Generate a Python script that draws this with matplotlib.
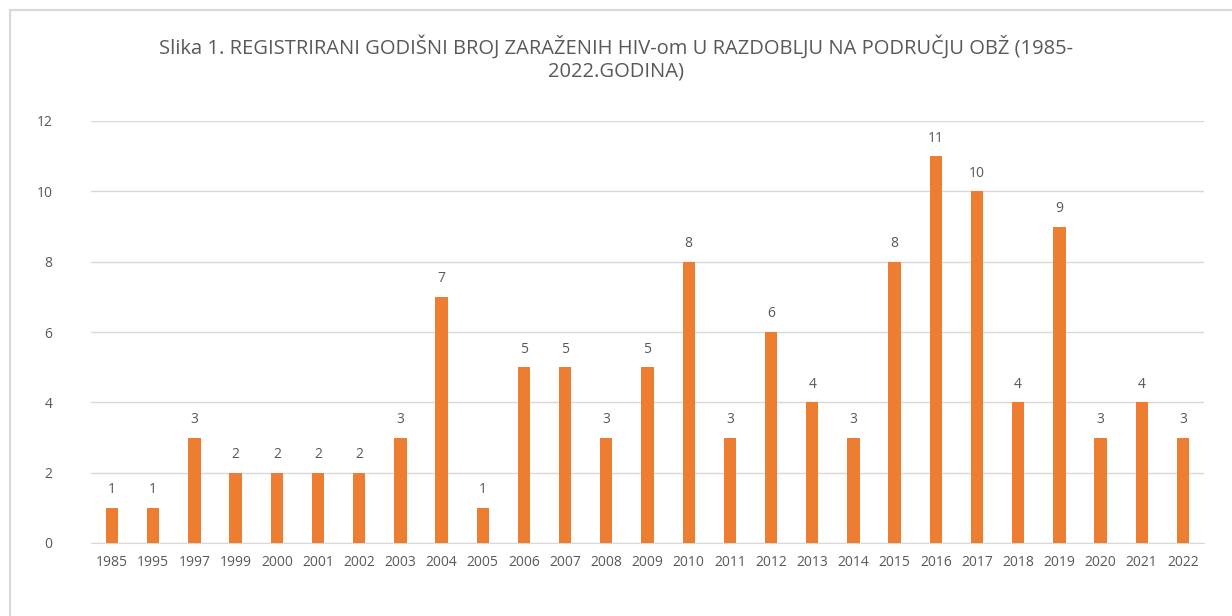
import matplotlib.pyplot as plt
from matplotlib.patches import Rectangle

# data
years = ["1985", "1995", "1997", "1999", "2000", "2001", "2002", "2003", "2004",
         "2005", "2006", "2007", "2008", "2009", "2010", "2011", "2012", "2013",
         "2014", "2015", "2016", "2017", "2018", "2019", "2020", "2021", "2022"]
cases = [1, 1, 3, 2, 2, 2, 2, 3, 7, 1, 5, 5, 3, 5, 8, 3, 6, 4, 3, 8, 11, 10,
         4, 9, 3, 4, 3]
yticks = [0, 2, 4, 6, 8, 10, 12]

title = ("Slika 1. REGISTRIRANI GODIŠNI BROJ ZARAŽENIH HIV-om U RAZDOBLJU NA PODRUČJU OBŽ (1985-\n"
         "2022.GODINA)")

plt.rcParams['font.family'] = ['Open Sans', 'DejaVu Sans']
text_col = "#595959"
bar_col = "#ED7D31"
grid_col = "#D9D9D9"

fig = plt.figure(figsize=(12.32, 6.16), dpi=100)

# chart frame (extends past right/bottom edge like the screenshot)
fig.patches.append(Rectangle((10 / 1232, -0.1), 1.2, 1 - 10 / 616 + 0.1,
                             transform=fig.transFigure, fill=False,
                             edgecolor=grid_col, linewidth=1.5))

ax = fig.add_axes([91.5 / 1232, 1 - 543 / 616, (1203.5 - 91.5) / 1232, (543 - 121) / 616])

x = range(len(years))
ax.bar(x, cases, width=0.3, color=bar_col, zorder=3)

for xi, v in zip(x, cases):
    ax.text(xi, v + 0.3, str(v), ha="center", va="bottom", fontsize=10, color=text_col)

ax.set_xlim(-0.5, len(years) - 0.5)
ax.set_ylim(0, 12)
ax.set_yticks(yticks)
ax.set_xticks(list(x))
ax.set_xticklabels(years)
ax.yaxis.grid(True, color=grid_col, linewidth=1)
ax.set_axisbelow(True)

for s in ["top", "right", "left"]:
    ax.spines[s].set_visible(False)
ax.spines["bottom"].set_color(grid_col)
ax.tick_params(axis="both", length=0, colors=text_col, labelsize=10)
ax.tick_params(axis="x", pad=9)
ax.tick_params(axis="y", pad=28)

fig.text(0.5, 1 - 58 / 616, title, ha="center", va="center", fontsize=14.5,
         color=text_col, linespacing=1.2)

fig.savefig("out.png", dpi=100)
